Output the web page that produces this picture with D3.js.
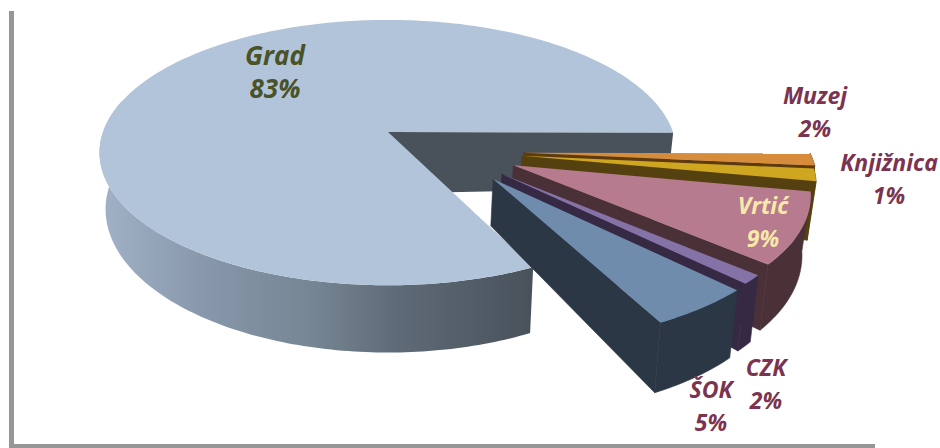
<!DOCTYPE html>
<head>
  <meta charset="utf-8">
  <script src="https://d3js.org/d3.v7.min.js"></script>
  <style>
    html, body { margin: 0; padding: 0; background: #fff; }
    svg { display: block; }
    text { font-family: "Open Sans", Lato, sans-serif; font-weight: 700; font-style: italic; text-anchor: middle; }
  </style>
</head>
<body>

<div id="my_dataviz"></div>

<script>

  // data
  var categories = ["Grad", "Muzej", "Knjižnica", "Vrtić", "CZK", "ŠOK"];
  // shares as measured from the slice angles
  var shares = [82.2, 1.5, 1.5, 8.6, 1.1, 5.0];
  // percentages as printed on the labels
  var printed = ["83%", "2%", "1%", "9%", "2%", "5%"];

  // colours
  var topColors = ["#b2c4d9", "#d78c3c", "#cfa61f", "#b67b8f", "#8573a8", "#6f8cad"];
  var wallColors = ["#49525b", "#5e3a10", "#55410f", "#4a3037", "#352944", "#2c3745"];
  var labelColors = ["#4a5228", "#7b3350", "#7b3350", "#f7eaa8", "#7b3350", "#7b3350"];

  // label centres, one per category
  var labelPos = [[275, 73], [815, 112], [889, 179], [763, 222], [766, 384], [711, 406]];
  var labelSizes = [26, 23, 23, 23, 23, 23];
  var lineGap = 33;

  var width = 940, height = 448;

  // pie geometry in the picture
  var cx = 388, cy = 132, rx = 285, ry = 129.5, persp = 0.155;

  var svg = d3.select("#my_dataviz")
    .append("svg")
      .attr("width", width)
      .attr("height", height);

  var defs = svg.append("defs");

  var blur = defs.append("filter").attr("id", "soft")
    .attr("x", "-50%").attr("y", "-5%").attr("width", "200%").attr("height", "110%");
  blur.append("feGaussianBlur").attr("stdDeviation", 0.7);

  // shading of the big slice side wall
  var wallGrad = defs.append("linearGradient").attr("id", "gradWall")
    .attr("gradientUnits", "userSpaceOnUse")
    .attr("x1", 100).attr("x2", 532).attr("y1", 0).attr("y2", 0);
  wallGrad.selectAll("stop")
    .data([[0, "#a2b2c6"], [0.25, "#8796a9"], [0.5, "#768593"], [0.68, "#5f6b78"], [1, "#49525b"]])
    .enter().append("stop")
      .attr("offset", function(d) { return d[0]; })
      .attr("stop-color", function(d) { return d[1]; });

  // picture frame, left and bottom edge only
  svg.append("rect").attr("x", 9).attr("y", 11).attr("width", 5).attr("height", 437)
    .attr("fill", "#969696").attr("filter", "url(#soft)");
  svg.append("rect").attr("x", 10).attr("y", 444).attr("width", 865).attr("height", 4)
    .attr("fill", "#969696");

  // angles clockwise from 12 o'clock, big slice ends where the rest of the pie starts
  var startAngle = 154 * Math.PI / 180;
  var pie = d3.pie().sort(null).value(function(d) { return d; })
    .startAngle(startAngle).endAngle(startAngle + 2 * Math.PI);
  var arcs = pie(shares);

  // direction each slice is pulled out, depends on its bisector
  var explodeDir = d3.scaleLinear().domain([92.75, 145]).range([108.5, 134.6]);
  var explodeBy = 0.49;
  // pulled out slices come out a little smaller than the big one
  var explodedRadiusX = 0.98, explodedRadiusY = 0.95;

  // ground plane -> screen, with a bit of perspective
  function project(u, v) {
    var s = 1 / (1 - persp * v);
    return [cx + rx * u * s, cy + ry * v * s];
  }

  // the point under a top point, t is the distance from the slice apex (0..1)
  function under(p, t, exploded) {
    var base = 55 + 0.08 * (p[1] - cy);
    var f = exploded ? 0.8 + 0.2 * t : 1 + 0.12 * (1 - t);
    return [p[0] - 6 * (p[0] - cx) / rx, p[1] + base * f];
  }

  var line = d3.line().curve(d3.curveLinear);
  var poly = function(pts) { return line(pts) + "Z"; };

  function drawSlice(d, i) {
    var exploded = i > 0;
    var ou = 0, ov = 0, rU = 1, rV = 1;
    if (exploded) {
      // these angles run past a full turn after the big slice
      var bis = ((d.startAngle + d.endAngle) / 2 * 180 / Math.PI) % 360;
      var dir = explodeDir(bis) * Math.PI / 180;
      ou = explodeBy * Math.sin(dir);
      ov = -explodeBy * Math.cos(dir);
      rU = explodedRadiusX;
      rV = explodedRadiusY;
    }
    var at = function(a) { return project(ou + rU * Math.sin(a), ov - rV * Math.cos(a)); };

    var n = Math.max(2, Math.ceil((d.endAngle - d.startAngle) * 180 / Math.PI));
    var angles = d3.range(n + 1).map(function(k) { return d.startAngle + (d.endAngle - d.startAngle) * k / n; });
    var rim = angles.map(at);
    var apex = project(ou, ov);

    var g = svg.append("g").attr("class", "slice");

    if (exploded) {
      // rim wall and the cut face that looks at the viewer, stroked so no seam shows
      var endRim = rim[rim.length - 1];
      g.append("path").attr("fill", wallColors[i]).attr("stroke", wallColors[i]).attr("stroke-width", 0.6)
        .attr("d", poly(rim.concat(rim.map(function(p) { return under(p, 1, true); }).reverse())));
      g.append("path").attr("fill", wallColors[i]).attr("stroke", wallColors[i]).attr("stroke-width", 0.6)
        .attr("d", poly([apex, endRim, under(endRim, 1, true), under(apex, 0, true)]));
    } else {
      // flat cut face behind the wedge, the top surface hides the rest of it
      var startRim = rim[rim.length - 1];
      g.append("path").attr("fill", wallColors[0])
        .attr("d", poly([apex, startRim, under(startRim, 1, false), under(apex, 0, false)]));
      // only the front of the rim shows
      var front = angles.filter(function(a) { return a <= 285 * Math.PI / 180; }).map(at);
      g.append("path").attr("fill", "url(#gradWall)")
        .attr("d", poly(front.concat(front.map(function(p) { return under(p, 1, false); }).reverse())));
    }

    g.append("path").attr("fill", topColors[i])
      .attr("d", poly([apex].concat(rim)));
  }

  arcs.forEach(drawSlice);

  // labels, two lines each
  var labels = svg.selectAll(".lab")
    .data(categories)
    .enter().append("g")
      .attr("class", "lab")
      .attr("transform", function(d, i) { return "translate(" + labelPos[i][0] + "," + labelPos[i][1] + ")"; })
      .style("font-size", function(d, i) { return labelSizes[i] + "px"; })
      .attr("fill", function(d, i) { return labelColors[i]; });

  labels.append("text").attr("y", -lineGap / 2 + 8).text(function(d) { return d; });
  labels.append("text").attr("y", lineGap / 2 + 8).text(function(d, i) { return printed[i]; });

</script>

</body>
